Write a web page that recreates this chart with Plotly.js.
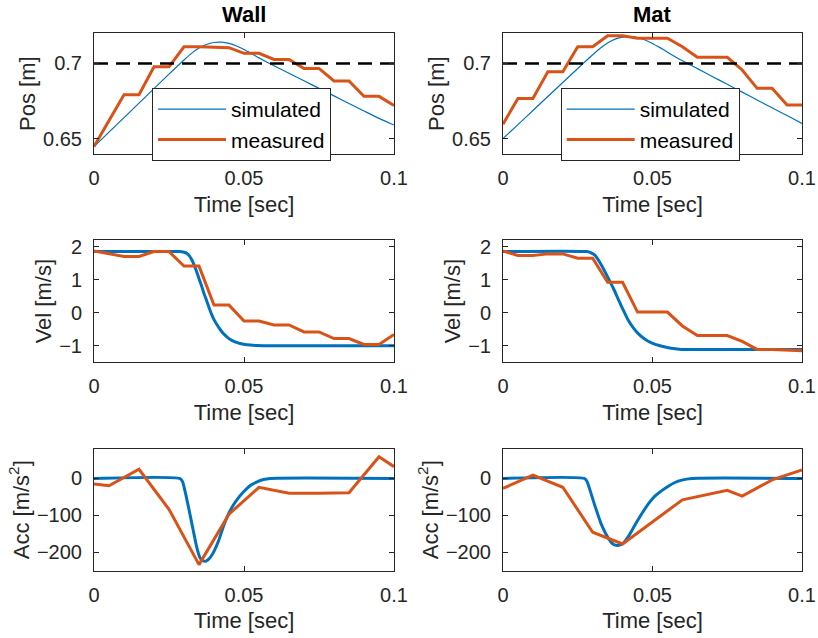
<!DOCTYPE html>
<html><head><meta charset="utf-8">
<script src="https://cdn.plot.ly/plotly-3.0.1.min.js"></script>
<style>html,body{margin:0;padding:0;background:#fff}</style>
</head><body><div id="chart" style="width:818px;height:638px"></div>
<script>
// ---------- data ----------
const panelTitles = ['Wall', 'Mat'];
const legendNames = ['simulated', 'measured'];

const xTickVals = [0, 0.05, 0.1];
const xTickText = ['0', '0.05', '0.1'];
const posTickVals = [0.65, 0.7];
const posTickText = ['0.65', '0.7'];
const velTickVals = [-1, 0, 1, 2];
const accTickVals = [-200, -100, 0];

const goalX = [0, 0.1];
const goalY = [0.7, 0.7];

const tMeas = [0, 0.005, 0.01, 0.015, 0.02, 0.025, 0.03, 0.035, 0.04, 0.045, 0.05,
               0.055, 0.06, 0.065, 0.07, 0.075, 0.08, 0.085, 0.09, 0.095, 0.1];

const posMeasWall = [0.6449, 0.6621, 0.6793, 0.6793, 0.6978, 0.6978, 0.7111, 0.7111, 0.7108, 0.7105, 0.7067,
                     0.7067, 0.7027, 0.7027, 0.6967, 0.6967, 0.6884, 0.6884, 0.6782, 0.6782, 0.6722];
const posMeasMat  = [0.6598, 0.6768, 0.6768, 0.6945, 0.6945, 0.7111, 0.7111, 0.7184, 0.7184, 0.7167, 0.7167,
                     0.7167, 0.7111, 0.7041, 0.7041, 0.7041, 0.6957, 0.6835, 0.6835, 0.6724, 0.6724];

const tSimPos = [0, 0.005, 0.01, 0.015, 0.02, 0.025, 0.03, 0.0325, 0.035, 0.0375, 0.04, 0.0425, 0.045,
                 0.0475, 0.05, 0.0525, 0.055, 0.06, 0.065, 0.07, 0.075, 0.08, 0.085, 0.09, 0.095, 0.1];
const posSimWall = [0.6449, 0.6545, 0.6641, 0.6737, 0.6833, 0.6929, 0.7023, 0.7067, 0.7102, 0.7126, 0.7139, 0.7141, 0.7133,
                    0.7116, 0.7092, 0.7065, 0.7037, 0.6985, 0.6935, 0.6885, 0.6835, 0.6785, 0.6735, 0.6685, 0.6636, 0.6592];
const posSimMat  = [0.6502, 0.6595, 0.6688, 0.6781, 0.6874, 0.6967, 0.7058, 0.7101, 0.7136, 0.7161, 0.7175, 0.7178, 0.7172,
                    0.7156, 0.7133, 0.7105, 0.7075, 0.7018, 0.6966, 0.6914, 0.6862, 0.6810, 0.6758, 0.6706, 0.6655, 0.6603];

const velMeasWall = [1.87, 1.78, 1.70, 1.70, 1.85, 1.85, 1.41, 1.41, 0.23, 0.23, -0.25,
                     -0.25, -0.37, -0.37, -0.58, -0.58, -0.78, -0.78, -0.96, -0.96, -0.66];
const velMeasMat  = [1.87, 1.73, 1.73, 1.78, 1.78, 1.65, 1.65, 0.92, 0.92, 0.02, 0.02,
                     0.02, -0.40, -0.69, -0.69, -0.69, -0.87, -1.11, -1.11, -1.13, -1.15];

const tSimVelWall = [0, 0.0285, 0.0292, 0.0300, 0.0309, 0.0318, 0.0326, 0.0334, 0.0342, 0.0350, 0.0359, 0.0367, 0.0376,
                     0.0384, 0.0392, 0.0400, 0.0409, 0.0420, 0.0431, 0.0442, 0.0453, 0.0470, 0.0487, 0.0503, 0.0520, 0.0542, 0.0564, 0.1];
const velSimWall  = [1.85, 1.85, 1.845, 1.83, 1.80, 1.72, 1.60, 1.44, 1.25, 1.03, 0.80, 0.57, 0.35,
                     0.14, -0.05, -0.21, -0.35, -0.50, -0.63, -0.72, -0.80, -0.88, -0.93, -0.96, -0.98, -0.995, -1.0, -1.0];
const tSimVelMat  = [0, 0.0279, 0.0293, 0.0307, 0.0324, 0.0341, 0.0355, 0.0369, 0.0383, 0.0397, 0.0408, 0.0419, 0.0436,
                     0.0453, 0.0475, 0.0497, 0.0525, 0.0553, 0.0576, 0.0598, 0.062, 0.1];
const velSimMat   = [1.85, 1.85, 1.82, 1.74, 1.52, 1.24, 0.99, 0.74, 0.46, 0.18, -0.03, -0.23, -0.46,
                     -0.64, -0.80, -0.91, -1.00, -1.06, -1.09, -1.11, -1.11, -1.11];

const tAccMeasWall = [0, 0.005, 0.015, 0.025, 0.035, 0.045, 0.055, 0.065, 0.075, 0.085, 0.095, 0.1];
const accMeasWall  = [-15, -20, 25, -84, -234, -97, -24, -40, -40, -39, 59, 32];
const tAccMeasMat  = [0, 0.01, 0.02, 0.03, 0.04, 0.05, 0.06, 0.075, 0.08, 0.09, 0.1];
const accMeasMat   = [-27, 9, -24, -146, -178, -118, -58, -32, -48, -4, 23];

const tSimAccWall = [0, 0.0285, 0.0295, 0.0303, 0.0315, 0.0326, 0.0342, 0.0353, 0.0362, 0.0370, 0.0378, 0.0387,
                     0.0400, 0.0415, 0.0431, 0.0448, 0.0464, 0.0480, 0.0498, 0.0520, 0.0542, 0.0565, 0.0587, 0.1];
const accSimWall  = [0, 0, -8, -33, -78, -122, -185, -215, -223, -225, -222, -215,
                     -198, -170, -131, -97, -73, -54, -37, -20, -10, -3, 0, 0];
const tSimAccMat  = [0, 0.0272, 0.0281, 0.0290, 0.0307, 0.0330, 0.0352, 0.0369, 0.0383, 0.0402, 0.0419, 0.0441,
                     0.0464, 0.0486, 0.0508, 0.0531, 0.0553, 0.0575, 0.0598, 0.0631, 0.1];
const accSimMat   = [0, 0, -8, -29, -73, -127, -162, -179, -182, -176, -158, -127,
                     -96, -69, -48, -33, -21, -11, -4.5, 0, 0];

// ---------- styling ----------
const BLUE = '#0072BD', ORANGE = '#D95319', AX = '#262626';
const FONT = 'Liberation Sans, Arial, Helvetica, sans-serif';
const W = 818, H = 638;
const colX = [[94 / W, 394 / W], [503 / W, 802 / W]];
const rowY = [[1 - 154 / H, 1 - 33.3 / H], [1 - 362.3 / H, 1 - 240 / H], [1 - 570.5 / H, 1 - 449 / H]];
const TICKSIZE = 20, LABELSIZE = 22;

function xAx(dom, anchor) {
  return {
    domain: dom, anchor: anchor, range: [0, 0.1],
    tickvals: xTickVals, ticktext: xTickText,
    showline: true, linecolor: AX, linewidth: 1, mirror: 'ticks',
    ticks: 'inside', ticklen: 5, tickwidth: 1, tickcolor: AX,
    showgrid: false, zeroline: false, automargin: false, ticklabelstandoff: 6,
    tickfont: {family: FONT, size: TICKSIZE, color: AX},
    title: {text: 'Time [sec]', font: {family: FONT, size: LABELSIZE, color: AX}, standoff: 8}
  };
}
function yAx(dom, anchor, range, tv, tt, label) {
  const a = {
    domain: dom, anchor: anchor, range: range, tickvals: tv,
    showline: true, linecolor: AX, linewidth: 1, mirror: 'ticks',
    ticks: 'inside', ticklen: 5, tickwidth: 1, tickcolor: AX,
    showgrid: false, zeroline: false, automargin: false, ticklabelstandoff: 7,
    tickfont: {family: FONT, size: TICKSIZE, color: AX},
    title: {text: label, font: {family: FONT, size: LABELSIZE, color: AX}, standoff: 1}
  };
  if (tt) a.ticktext = tt;
  return a;
}
function legendBox(left) {
  return {x: left / W, y: 1 - 88 / H, xanchor: 'left', yanchor: 'top', bgcolor: '#fff',
          bordercolor: AX, borderwidth: 1, font: {family: FONT, size: 21, color: '#000'},
          itemwidth: 68, tracegroupgap: 0};
}

const layout = {
  width: W, height: H, autosize: false,
  margin: {l: 0, r: 0, t: 0, b: 0},
  paper_bgcolor: '#fff', plot_bgcolor: '#fff',
  font: {family: FONT, color: AX},
  showlegend: true,
  xaxis: xAx(colX[0], 'y'), yaxis: yAx(rowY[0], 'x', [0.64, 0.72], posTickVals, posTickText, 'Pos [m]'),
  xaxis2: xAx(colX[1], 'y2'), yaxis2: yAx(rowY[0], 'x2', [0.64, 0.72], posTickVals, posTickText, 'Pos [m]'),
  xaxis3: xAx(colX[0], 'y3'), yaxis3: yAx(rowY[1], 'x3', [-1.5, 2.2], velTickVals, null, 'Vel [m/s]'),
  xaxis4: xAx(colX[1], 'y4'), yaxis4: yAx(rowY[1], 'x4', [-1.5, 2.2], velTickVals, null, 'Vel [m/s]'),
  xaxis5: xAx(colX[0], 'y5'), yaxis5: yAx(rowY[2], 'x5', [-250, 80], accTickVals, null, 'Acc [m/s<sup>2</sup>]'),
  xaxis6: xAx(colX[1], 'y6'), yaxis6: yAx(rowY[2], 'x6', [-250, 80], accTickVals, null, 'Acc [m/s<sup>2</sup>]'),
  legend: legendBox(152),
  legend2: legendBox(560.7),
  annotations: panelTitles.map((t, i) => ({
    text: '<b>' + t + '</b>', x: (colX[i][0] + colX[i][1]) / 2, y: 1, xref: 'paper', yref: 'paper',
    xanchor: 'center', yanchor: 'top', showarrow: false, font: {family: FONT, size: 22, color: '#000'}
  }))
};

const sm = {shape: 'spline', smoothing: 0.6};
const traces = [];
function add(x, y, xa, ya, color, width, opts) {
  traces.push(Object.assign({type: 'scatter', mode: 'lines', x: x, y: y, xaxis: xa, yaxis: ya,
    line: Object.assign({color: color, width: width}, opts && opts.line || {}),
    showlegend: false, hoverinfo: 'skip'}, opts && opts.extra || {}));
}
// Pos row
add(tSimPos, posSimWall, 'x', 'y', BLUE, 1.2, {line: sm, extra: {name: legendNames[0], showlegend: true, legend: 'legend'}});
add(tMeas, posMeasWall, 'x', 'y', ORANGE, 3, {extra: {name: legendNames[1], showlegend: true, legend: 'legend'}});
add(goalX, goalY, 'x', 'y', '#000', 2.6, {line: {dash: '14px,8px'}});
add(tSimPos, posSimMat, 'x2', 'y2', BLUE, 1.2, {line: sm, extra: {name: legendNames[0], showlegend: true, legend: 'legend2'}});
add(tMeas, posMeasMat, 'x2', 'y2', ORANGE, 3, {extra: {name: legendNames[1], showlegend: true, legend: 'legend2'}});
add(goalX, goalY, 'x2', 'y2', '#000', 2.6, {line: {dash: '14px,8px'}});
// Vel row
add(tSimVelWall, velSimWall, 'x3', 'y3', BLUE, 3, {line: sm});
add(tMeas, velMeasWall, 'x3', 'y3', ORANGE, 3);
add(tSimVelMat, velSimMat, 'x4', 'y4', BLUE, 3, {line: sm});
add(tMeas, velMeasMat, 'x4', 'y4', ORANGE, 3);
// Acc row
add(tSimAccWall, accSimWall, 'x5', 'y5', BLUE, 3, {line: sm});
add(tAccMeasWall, accMeasWall, 'x5', 'y5', ORANGE, 3);
add(tSimAccMat, accSimMat, 'x6', 'y6', BLUE, 3, {line: sm});
add(tAccMeasMat, accMeasMat, 'x6', 'y6', ORANGE, 3);

Plotly.newPlot('chart', traces, layout, {staticPlot: true, displayModeBar: false});
</script>
</body></html>
